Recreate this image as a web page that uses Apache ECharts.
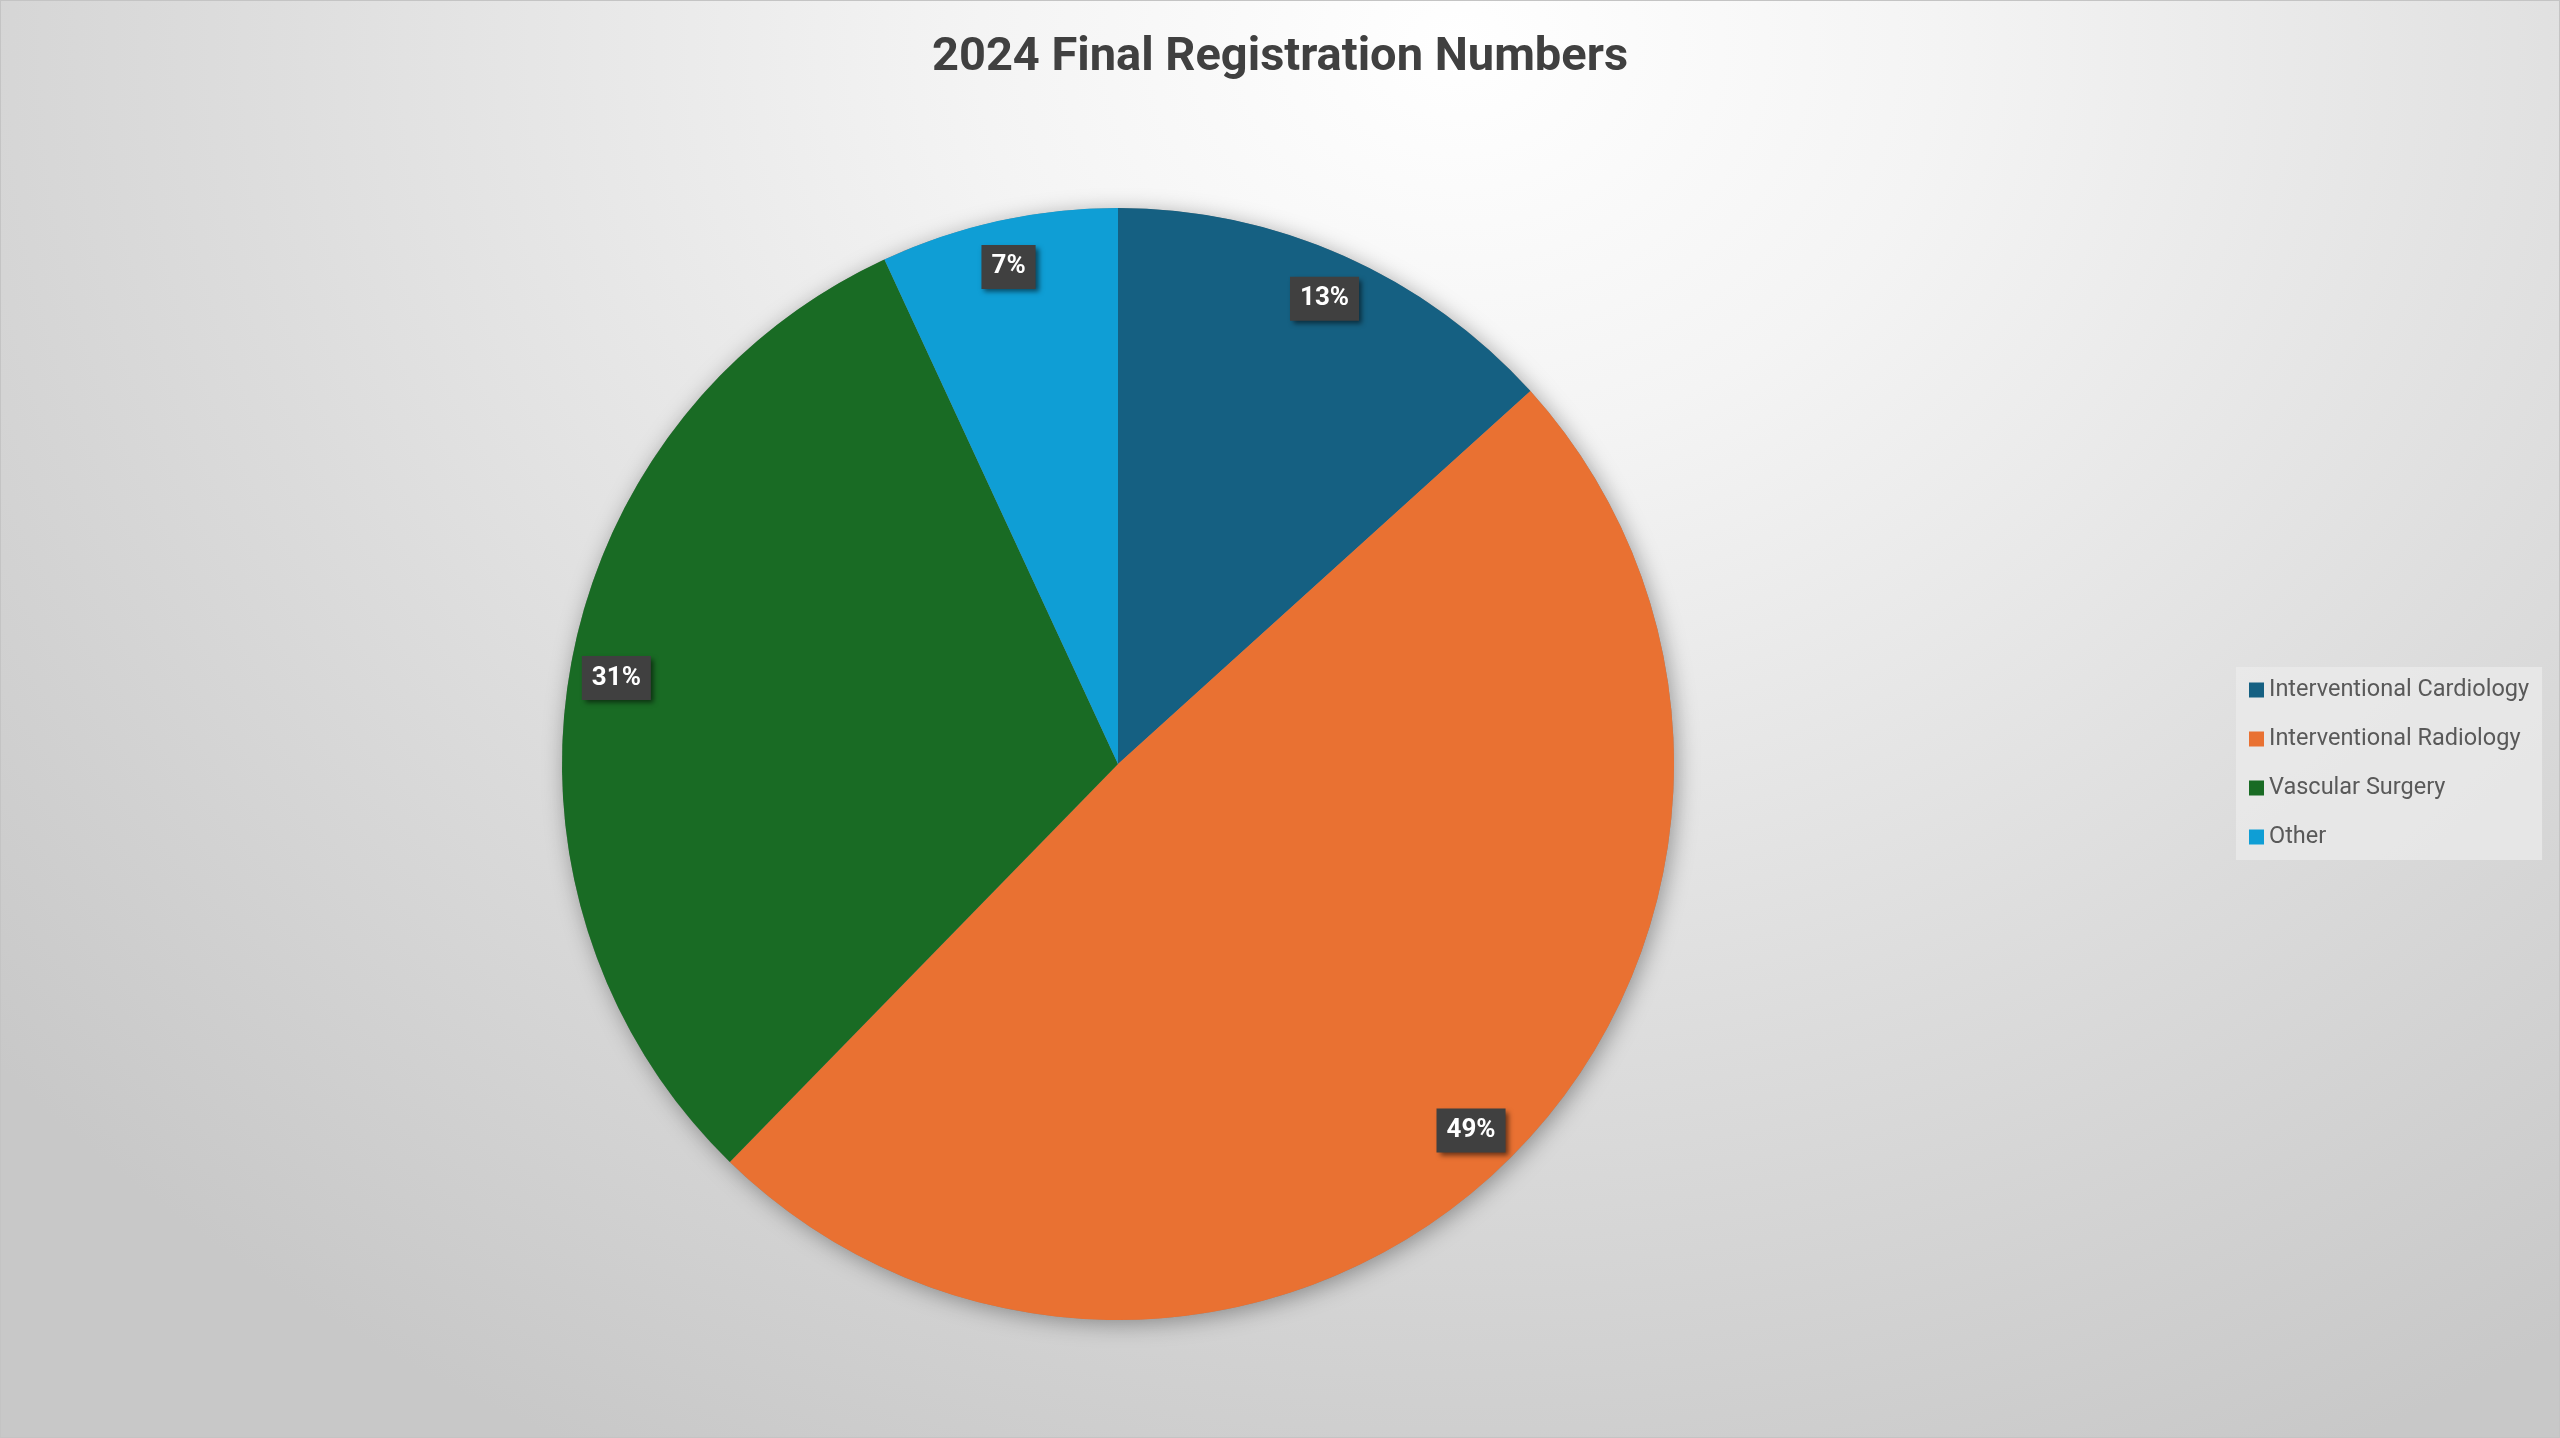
<!DOCTYPE html>
<html>
<head>
<meta charset="utf-8">
<script src="https://cdn.jsdelivr.net/npm/echarts@6/dist/echarts.min.js"></script>
<style>
  html, body { margin: 0; padding: 0; width: 2560px; height: 1438px; overflow: hidden; }
  #chart {
    width: 2558px; height: 1436px;
    border: 1px solid #c4c4c4;
    background: radial-gradient(ellipse 75% 110% at 57% 3%, #ffffff 0%, #f4f4f4 25%, #dcdcdc 65%, #c8c8c8 100%);
  }
</style>
</head>
<body>
<div id="chart"></div>
<script>
const titleText = '2024 Final Registration Numbers';
const categories = ['Interventional Cardiology', 'Interventional Radiology', 'Vascular Surgery', 'Other'];
const values = [133, 490, 308, 69];
const colors = ['#156082', '#E97132', '#196B24', '#0F9ED5'];

const chart = echarts.init(document.getElementById('chart'), null, { renderer: 'canvas' });

const data = categories.map((name, i) => ({ name: name, value: values[i], itemStyle: { color: colors[i] } }));

const R = 556;
const center = [1117, 763];

chart.setOption({
  backgroundColor: 'transparent',
  animation: false,
  title: {
    text: titleText,
    left: 'center',
    top: 24,
    textStyle: {
      fontFamily: 'Roboto',
      fontWeight: 'bold',
      fontSize: 47,
      lineHeight: 56,
      color: '#404040'
    }
  },
  legend: {
    orient: 'vertical',
    left: 2235,
    top: 666,
    width: 307,
    padding: [10, 13, 10, 13],
    itemGap: 23,
    itemWidth: 15,
    itemHeight: 15,
    icon: 'rect',
    backgroundColor: 'rgba(235,235,235,0.75)',
    data: categories,
    textStyle: {
      fontFamily: 'Roboto',
      fontSize: 23.5,
      lineHeight: 26,
      color: '#595959'
    }
  },
  series: [
    {
      // shadow disc under the pie
      type: 'pie',
      silent: true,
      center: center,
      radius: R,
      startAngle: 90,
      label: { show: false },
      labelLine: { show: false },
      data: [{ name: '__shadow', value: 1, itemStyle: { color: '#888', shadowBlur: 22, shadowColor: 'rgba(0,0,0,0.35)', shadowOffsetX: 3, shadowOffsetY: 4 } }],
      z: 1
    },
    {
      type: 'pie',
      center: center,
      radius: R,
      startAngle: 90,
      clockwise: true,
      percentPrecision: 0,
      label: { show: false },
      labelLine: { show: false },
      itemStyle: { borderWidth: 0 },
      emphasis: { disabled: true },
      data: data,
      z: 2
    },
    {
      // transparent ring carrying the data labels near the rim
      type: 'pie',
      center: center,
      radius: [R * 0.82, R],
      startAngle: 90,
      clockwise: true,
      percentPrecision: 0,
      silent: true,
      itemStyle: { color: 'rgba(0,0,0,0)', borderWidth: 0 },
      emphasis: { disabled: true },
      labelLine: { show: false },
      label: {
        show: true,
        position: 'inside',
        formatter: '{d}%',
        fontFamily: 'Roboto',
        fontWeight: 'bold',
        fontSize: 26,
        lineHeight: 28,
        color: '#ffffff',
        backgroundColor: '#404040',
        padding: [8, 10],
        shadowColor: 'rgba(0,0,0,0.55)',
        shadowBlur: 5,
        shadowOffsetX: 3,
        shadowOffsetY: 3
      },
      data: categories.map((name, i) => ({ name: name, value: values[i] })),
      z: 3
    }
  ]
});
</script>
</body>
</html>
